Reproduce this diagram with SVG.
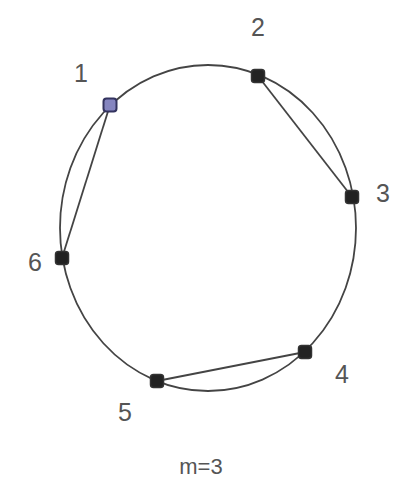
<svg xmlns="http://www.w3.org/2000/svg" width="399" height="488" viewBox="0 0 399 488">
<style>
.e{fill:none;stroke:#444;stroke-width:1.8}
.n{fill:#222;stroke:#333;stroke-width:1.5}
.n1{fill:#8585c0;stroke:#33335e;stroke-width:2}
.l{font-family:"Liberation Sans",Arial,sans-serif;font-size:25px;fill:#555;text-anchor:middle;dominant-baseline:central}
</style>
<rect width="399" height="488" fill="#fff"/>
<g id="connectors">
<ellipse class="e" cx="208" cy="228" rx="148" ry="163"/>
<line class="e" x1="258" y1="76" x2="352" y2="197"/>
<line class="e" x1="305" y1="352" x2="157" y2="381"/>
<line class="e" x1="62" y1="258" x2="110" y2="105"/>
</g>
<g id="node1"><rect class="n1" x="103.5" y="98.5" width="13" height="13" rx="3"/><text class="l" x="81" y="73">1</text></g>
<g id="node2"><rect class="n" x="251.5" y="69.5" width="13" height="13" rx="3"/><text class="l" x="258" y="27">2</text></g>
<g id="node3"><rect class="n" x="345.5" y="190.5" width="13" height="13" rx="3"/><text class="l" x="383" y="193">3</text></g>
<g id="node4"><rect class="n" x="298.5" y="345.5" width="13" height="13" rx="3"/><text class="l" x="342" y="374">4</text></g>
<g id="node5"><rect class="n" x="150.5" y="374.5" width="13" height="13" rx="3"/><text class="l" x="125" y="412">5</text></g>
<g id="node6"><rect class="n" x="55.5" y="251.5" width="13" height="13" rx="3"/><text class="l" x="35" y="262">6</text></g>
<text class="l" x="201" y="466" style="font-size:22px">m=3</text>
</svg>
